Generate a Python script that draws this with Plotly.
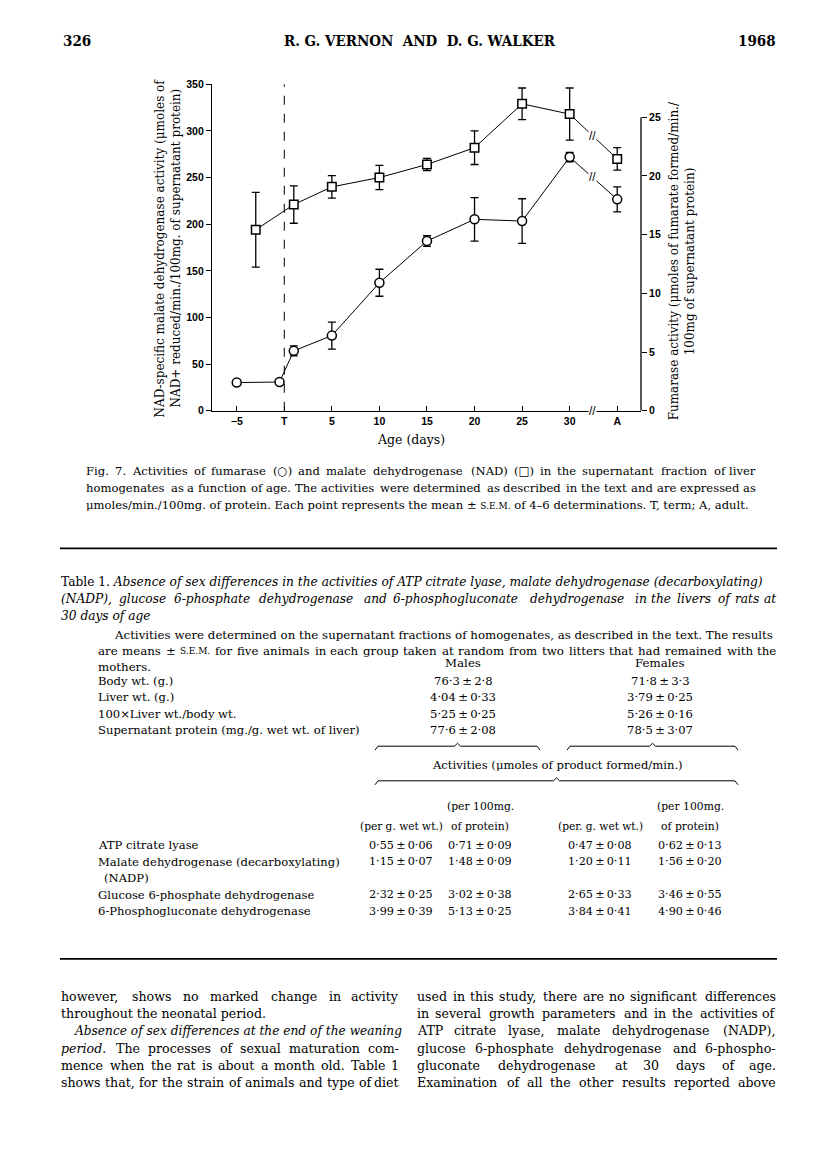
import re
import plotly.graph_objects as go

# page is 816x1155; the browser body keeps an 8px margin, so the figure is a bit smaller
PAGE_OFF = 8
FW, FH = 800, 1137
SERIF = "DejaVu Serif"
SANS = "Liberation Sans"

# ---- Fig. 7 data ----
ADULT = 35  # position of the 'A' (adult) point on the age axis
mdh_age = [-3, 1, 5, 10, 15, 20, 25, 30, ADULT]
mdh_act = [194, 221, 240, 250, 264, 282, 329, 318, 270]
mdh_sem = [40, 20, 12, 13, 6.5, 18, 17, 28, 12]

fum_age = [-5, -0.5, 1, 5, 10, 15, 20, 25, 30, ADULT]
fum_act = [2.4, 2.45, 5.1, 6.4, 10.9, 14.45, 16.3, 16.15, 21.6, 18.0]
fum_sem = [0, 0, 0.43, 1.15, 1.15, 0.45, 1.85, 1.9, 0.4, 1.07]

age_ticks = [-5, 0, 5, 10, 15, 20, 25, 30, ADULT]
age_labels = ["\u22125", "T", "5", "10", "15", "20", "25", "30", "A"]
BREAK_AT = 32.4

# ---- Table 1 data ----
growth_rows = ["Body wt. (g.)", "Liver wt. (g.)", "100\u00d7Liver wt./body wt.",
               "Supernatant protein (mg./g. wet wt. of liver)"]
growth_males = ["76\u00b73\u2009\u00b1\u20092\u00b78", "4\u00b704\u2009\u00b1\u20090\u00b733",
                "5\u00b725\u2009\u00b1\u20090\u00b725", "77\u00b76\u2009\u00b1\u20092\u00b708"]
growth_females = ["71\u00b78\u2009\u00b1\u20093\u00b73", "3\u00b779\u2009\u00b1\u20090\u00b725",
                  "5\u00b726\u2009\u00b1\u20090\u00b716", "78\u00b75\u2009\u00b1\u20093\u00b707"]

enzyme_rows = ["ATP citrate lyase", "Malate dehydrogenase (decarboxylating)",
               "Glucose 6-phosphate dehydrogenase", "6-Phosphogluconate dehydrogenase"]
m_per_g = ["0\u00b755", "1\u00b715", "2\u00b732", "3\u00b799"]
m_per_g_se = ["0\u00b706", "0\u00b707", "0\u00b725", "0\u00b739"]
m_per_p = ["0\u00b771", "1\u00b748", "3\u00b702", "5\u00b713"]
m_per_p_se = ["0\u00b709", "0\u00b709", "0\u00b738", "0\u00b725"]
f_per_g = ["0\u00b747", "1\u00b720", "2\u00b765", "3\u00b784"]
f_per_g_se = ["0\u00b708", "0\u00b711", "0\u00b733", "0\u00b741"]
f_per_p = ["0\u00b762", "1\u00b756", "3\u00b746", "4\u00b790"]
f_per_p_se = ["0\u00b713", "0\u00b720", "0\u00b755", "0\u00b746"]


def px_x(x):
    return (x - PAGE_OFF) / FW


def px_y(y):
    return 1 - (y - PAGE_OFF) / FH


def pm(a, b):
    return a + "\u2009\u00b1\u2009" + b


fig = go.Figure()

# malate dehydrogenase (squares, left axis)
fig.add_trace(go.Scatter(
    x=mdh_age, y=mdh_act, mode="lines+markers",
    line=dict(color="black", width=1),
    marker=dict(symbol="square", size=8.5, color="white", line=dict(color="black", width=1.5)),
    error_y=dict(type="data", array=mdh_sem, color="black", thickness=1.3, width=4),
    yaxis="y", cliponaxis=False,
))

# fumarase (circles, right axis)
fig.add_trace(go.Scatter(
    x=fum_age, y=fum_act, mode="lines+markers",
    line=dict(color="black", width=1),
    marker=dict(symbol="circle", size=9, color="white", line=dict(color="black", width=1.5)),
    error_y=dict(type="data", array=fum_sem, color="black", thickness=1.3, width=4),
    yaxis="y2", cliponaxis=False,
))

tickfont = dict(family=SANS, size=10.5, color="black", weight="bold")
fig.update_layout(
    width=FW, height=FH,
    margin=dict(l=0, r=0, t=0, b=0),
    paper_bgcolor="white", plot_bgcolor="white",
    showlegend=False,
    xaxis=dict(
        domain=[px_x(212), px_x(641)], range=[-7.6, 37.5],
        showgrid=False, zeroline=False,
        showline=True, linecolor="black", linewidth=1.3,
        ticks="inside", ticklen=5, tickwidth=1, tickcolor="black",
        tickvals=age_ticks, ticktext=age_labels, tickfont=tickfont,
    ),
    yaxis=dict(
        domain=[px_y(409), px_y(79)], range=[0, 350], dtick=50,
        showgrid=False, zeroline=False,
        showline=True, linecolor="black", linewidth=1.3,
        ticks="outside", ticklen=5, tickwidth=1, tickcolor="black",
        tickfont=tickfont,
    ),
    yaxis2=dict(
        overlaying="y", side="right", anchor="x", range=[0, 27.8],
        tickvals=[0, 5, 10, 15, 20, 25],
        showgrid=False, zeroline=False, showline=False,
        ticks="outside", ticklen=5, tickwidth=1, tickcolor="black",
        tickfont=tickfont,
    ),
)

# term line
fig.add_shape(type="line", xref="x", yref="y", x0=0, x1=0, y0=0, y1=350,
              line=dict(color="black", width=1, dash="dash"))
# right axis line (only up to 25)
fig.add_shape(type="line", xref="x domain", yref="y2", x0=1, x1=1, y0=0, y1=25,
              line=dict(color="black", width=1.3))

# axis / line breaks
brk = dict(text="//", showarrow=False, bgcolor="white", borderpad=0,
           font=dict(family=SANS, size=12, color="black"))
fig.add_annotation(x=BREAK_AT, y=0, xref="x", yref="y", **brk)
f = (BREAK_AT - mdh_age[-2]) / (mdh_age[-1] - mdh_age[-2])
fig.add_annotation(x=BREAK_AT, y=mdh_act[-2] + f * (mdh_act[-1] - mdh_act[-2]),
                   xref="x", yref="y", **brk)
f = (BREAK_AT - fum_age[-2]) / (fum_age[-1] - fum_age[-2])
fig.add_annotation(x=BREAK_AT, y=fum_act[-2] + f * (fum_act[-1] - fum_act[-2]),
                   xref="x", yref="y2", **brk)


def txt(x, y, s, size=12, anchor="left", family=SERIF, angle=0, weight="normal"):
    fig.add_annotation(x=px_x(x), y=px_y(y), xref="paper", yref="paper", text=s,
                       showarrow=False, xanchor=anchor, yanchor="middle",
                       textangle=angle, borderpad=0,
                       font=dict(family=family, size=size, color="black", weight=weight))


def hline(y, x0=60, x1=777, w=1.8):
    fig.add_shape(type="line", xref="paper", yref="paper",
                  x0=px_x(x0), x1=px_x(x1), y0=px_y(y), y1=px_y(y),
                  line=dict(color="black", width=w))


def brace(x0, x1, y):
    xm = (x0 + x1) / 2
    pts = [(x0, y + 4), (x0 + 3, y), (xm - 3, y), (xm, y - 3), (xm + 3, y), (x1 - 3, y), (x1, y + 4)]
    path = "M " + " L ".join("%.5f,%.5f" % (px_x(a), px_y(b)) for a, b in pts)
    fig.add_shape(type="path", xref="paper", yref="paper", path=path,
                  line=dict(color="black", width=1))


# rough DejaVu Serif advance widths (em), used to spread justified lines
CW = {" ": .318, ".": .318, ",": .318, "(": .390, ")": .390, "-": .338, "/": .337,
      ":": .337, ";": .337, "\u2013": .5, "\u00b1": .838, "\u03bc": .640,
      "\u25cb": .9, "\u25a1": .9, "\u00d7": .838, "+": .838}
CW.update(dict(zip("abcdefghijklmnopqrstuvwxyz",
                   [.596, .640, .560, .640, .592, .370, .640, .644, .320, .310, .606, .320, .948,
                    .644, .602, .640, .640, .478, .513, .402, .644, .565, .856, .564, .565, .527])))
CW.update(dict(zip("ABCDEFGHIJKLMNOPQRSTUVWXYZ",
                   [.722, .735, .720, .802, .729, .693, .794, .872, .395, .401, .747, .664, 1.024,
                    .875, .820, .673, .820, .753, .685, .667, .843, .722, 1.028, .712, .660, .695])))
CW.update({d: .636 for d in "0123456789"})
SEM = "<span style='font-size:9px'>S.E.M.</span>"


def word_w(w, size):
    if w == "{SEM}":
        return 31.5
    extra = 1.06 if "<i>" in w else 1.035
    return sum(CW.get(ch, .6) for ch in re.sub("<[^>]+>", "", w)) * size * extra


def para_line(x0, x1, y, line, size, justify=True):
    words = line.split()
    widths = [word_w(w, size) for w in words]
    gap = (x1 - x0 - sum(widths)) / max(len(words) - 1, 1)
    if not justify or gap < 3.2 or len(words) < 3:
        txt(x0, y, " ".join(words).replace("{SEM}", SEM), size)
        return
    x = x0
    for i, w in enumerate(words):
        s = w.replace("{SEM}", SEM)
        if i == len(words) - 1:
            txt(x1, y, s, size, anchor="right")
        else:
            txt(x, y, s, size)
        x += widths[i] + gap


def ital(s):
    return " ".join("<i>%s</i>" % w for w in s.split())


# header
HEAD = "DejaVu Serif Condensed"
txt(62, 35, "326", size=15, family=HEAD, weight="bold")
txt(420, 35, "R. G. VERNON  AND  D. G. WALKER", size=15, anchor="center", family=HEAD, weight="bold")
txt(777, 35, "1968", size=15, anchor="right", family=HEAD, weight="bold")

# axis titles
txt(160, 245, "NAD-specific malate dehydrogenase activity (\u03bcmoles of", size=12, anchor="center", angle=-90)
txt(176, 245, "NAD+ reduced/min./100mg. of supernatant protein)", size=12, anchor="center", angle=-90)
txt(674, 258, "Fumarase activity (\u03bcmoles of fumarate formed/min./", size=12, anchor="center", angle=-90)
txt(690, 258, "100mg of supernatant protein)", size=12, anchor="center", angle=-90)
txt(411, 438, "Age (days)", size=12.5, anchor="center")

# caption
caption = [
    "Fig. 7. Activities of fumarase (\u25cb) and malate dehydrogenase (NAD) (\u25a1) in the supernatant fraction of liver",
    "homogenates as a function of age. The activities were determined as described in the text and are expressed as",
    "\u03bcmoles/min./100mg. of protein. Each point represents the mean \u00b1 {SEM} of 4\u20136 determinations. T, term; A, adult.",
]
for i, line in enumerate(caption):
    para_line(85, 757, 470 + 17 * i, line, 11.6)

hline(548)

# table title
title = [
    "Table 1. " + ital("Absence of sex differences in the activities of ATP citrate lyase, malate dehydrogenase (decarboxylating)"),
    ital("(NADP), glucose 6-phosphate dehydrogenase and 6-phosphogluconate dehydrogenase in the livers of rats at"),
    ital("30 days of age"),
]
para_line(60, 777, 582, title[0], 12.2)
para_line(60, 777, 599, title[1], 12.2)
para_line(60, 777, 616, title[2], 12.2, justify=False)

desc = [
    "Activities were determined on the supernatant fractions of homogenates, as described in the text. The results",
    "are means \u00b1 {SEM} for five animals in each group taken at random from two litters that had remained with the",
    "mothers.",
]
para_line(113, 777, 636, desc[0], 11.8)
para_line(97, 777, 652, desc[1], 11.8)
para_line(97, 777, 668, desc[2], 11.8, justify=False)

txt(463, 664, "Males", size=11.8, anchor="center")
txt(660, 664, "Females", size=11.8, anchor="center")
for i in range(len(growth_rows)):
    y = 682 + 16.5 * i
    txt(97, y, growth_rows[i], size=11.6)
    txt(463, y, growth_males[i], size=11.6, anchor="center")
    txt(660, y, growth_females[i], size=11.6, anchor="center")

brace(375, 540, 748)
brace(567, 738, 748)
txt(557, 767, "Activities (\u03bcmoles of product formed/min.)", size=11.6, anchor="center")
brace(375, 738, 783)

cols = [401, 480, 600, 690]
txt(cols[1], 809, "(per 100mg.", size=10.8, anchor="center")
txt(cols[3], 809, "(per 100mg.", size=10.8, anchor="center")
txt(cols[0], 829, "(per g. wet wt.)", size=10.6, anchor="center")
txt(cols[1], 829, "of protein)", size=10.8, anchor="center")
txt(cols[2], 829, "(per. g. wet wt.)", size=10.6, anchor="center")
txt(cols[3], 829, "of protein)", size=10.8, anchor="center")

row_y = [848, 865, 898, 915]
for i in range(len(enzyme_rows)):
    y = row_y[i]
    txt(97, y, enzyme_rows[i], size=11.6)
    txt(cols[0], y, pm(m_per_g[i], m_per_g_se[i]), size=11.2, anchor="center")
    txt(cols[1], y, pm(m_per_p[i], m_per_p_se[i]), size=11.2, anchor="center")
    txt(cols[2], y, pm(f_per_g[i], f_per_g_se[i]), size=11.2, anchor="center")
    txt(cols[3], y, pm(f_per_p[i], f_per_p_se[i]), size=11.2, anchor="center")
txt(103, 881, "(NADP)", size=11.6)

hline(963)

# body text, two columns
left_col = [
    "however, shows no marked change in activity",
    "throughout the neonatal period.",
    ital("Absence of sex differences at the end of the weaning"),
    "<i>period</i>. The processes of sexual maturation com-",
    "mence when the rat is about a month old. Table 1",
    "shows that, for the strain of animals and type of diet",
]
right_col = [
    "used in this study, there are no significant differences",
    "in several growth parameters and in the activities of",
    "ATP citrate lyase, malate dehydrogenase (NADP),",
    "glucose 6-phosphate dehydrogenase and 6-phospho-",
    "gluconate dehydrogenase at 30 days of age.",
    "Examination of all the other results reported above",
]
for i, line in enumerate(left_col):
    y = 1001 + 17.4 * i
    if i == 2:
        para_line(73, 400, y, line, 12.2, justify=False)
    else:
        para_line(60, 400, y, line, 12.6, justify=(i != 1))
for i, line in enumerate(right_col):
    para_line(416, 777, 1001 + 17.4 * i, line, 12.6)

fig.write_html("out.html")
